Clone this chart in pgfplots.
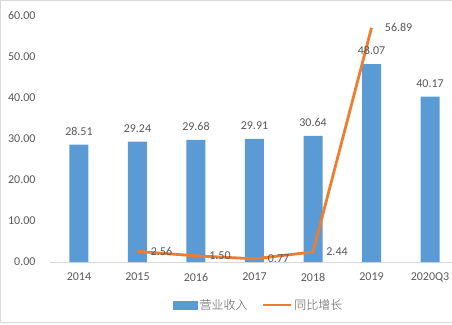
\documentclass[border=0pt]{standalone}
\usepackage{pgfplots}
\pgfplotsset{compat=1.18}
\usepackage{fontspec}
\setmainfont{Carlito}
\newfontfamily\cjk{Noto Sans CJK SC Light}
\definecolor{barblue}{HTML}{5B9BD5}
\definecolor{lineorange}{HTML}{ED7D31}
\definecolor{txtgray}{HTML}{595959}
\definecolor{framegray}{HTML}{D9D9D9}
\begin{document}
\fontsize{12}{14}\selectfont
\begin{tikzpicture}[x=1pt,y=1pt]
\useasboundingbox (0,0) rectangle (452,324);
\clip (0,0) rectangle (452,324);
\fill[white] (0,0) rectangle (452,324);
\draw[framegray, line width=1pt] (453,323.5) -- (0.5,323.5) -- (0.5,1.5) -- (453,1.5);
\begin{axis}[
  at={(49.7pt,62pt)}, anchor=south west,
  scale only axis, width=409.6pt, height=247pt,
  xmin=-0.5, xmax=6.5, ymin=0, ymax=60,
  ytick={0,10,...,60},
  xtick={0,...,6},
  xticklabels={2014,2015,2016,2017,2018,2019,2020Q3},
  separate axis lines,
  axis x line*=bottom, axis y line*=left,
  x axis line style={draw=framegray, line width=0.8pt},
  y axis line style={draw=none},
  major tick length=0pt,
  clip=false,
  /pgf/number format/assume math mode=true,
  yticklabel={\pgfmathprintnumber[fixed,fixed zerofill,precision=2,assume math mode=true]{\tick}},
  every tick label/.append style={font=\fontsize{12}{14}\selectfont, text=txtgray},
  yticklabel style={xshift=-10pt},
  xticklabel style={yshift=-7pt},
  legend style={at={(0.51,0)}, anchor=center, yshift=-43pt, draw=none, fill=none,
    font=\cjk\fontsize{12}{14}\selectfont, text=txtgray, legend columns=2,
    /tikz/every even column/.append style={column sep=12pt}},
  legend cell align=left,
]
\addplot[ybar, bar width=19pt, fill=barblue, draw=none,
  nodes near coords={\pgfmathprintnumber[fixed,fixed zerofill,precision=2,assume math mode=true]{\pgfplotspointmeta}},
  every node near coord/.append style={font=\fontsize{12}{14}\selectfont, text=txtgray, yshift=5pt},
  legend image code/.code={\fill[barblue] (0pt,-4.5pt) rectangle (25pt,4.5pt);}
] coordinates {(0,28.51) (1,29.24) (2,29.68) (3,29.91) (4,30.64) (5,48.07) (6,40.17)};
\addlegendentry{营业收入}
\addplot[lineorange, line width=2.8pt, mark=none,
  nodes near coords={\pgfmathprintnumber[fixed,fixed zerofill,precision=2,assume math mode=true]{\pgfplotspointmeta}},
  every node near coord/.append style={font=\fontsize{12}{14}\selectfont, text=txtgray, anchor=west, xshift=8pt},
  legend image code/.code={\draw[lineorange, line width=2.8pt] (0pt,0pt) -- (28pt,0pt);}
] coordinates {(1,2.56) (2,1.50) (3,0.77) (4,2.44) (5,56.89)};
\addlegendentry{同比增长}
\end{axis}
\end{tikzpicture}
\end{document}
